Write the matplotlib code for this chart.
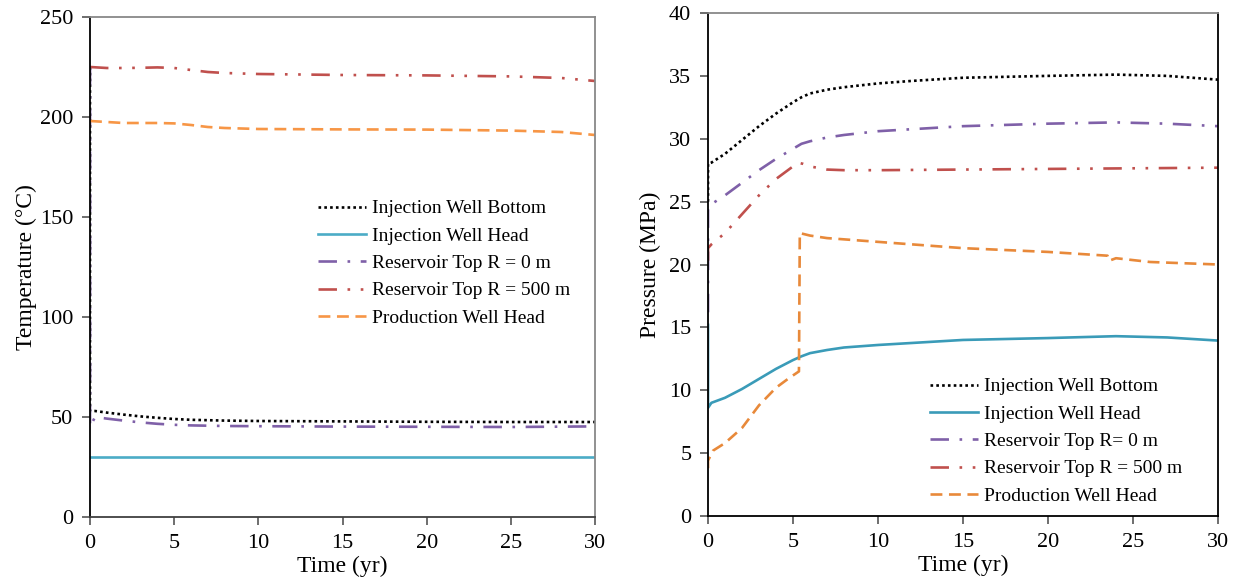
import matplotlib
matplotlib.use("Agg")
import matplotlib.pyplot as plt

plt.rcParams['font.family'] = ['Liberation Serif', 'DejaVu Serif']
plt.rcParams['mathtext.fontset'] = 'stix'

# ---------------- Temperature data (left) ----------------
t_T_ibot = [0, 0, 0.3, 1, 2, 3, 4, 5, 6, 8, 10, 15, 20, 25, 30]
T_ibot = [225, 53, 53, 52.2, 51.2, 50.3, 49.6, 49.0, 48.6, 48.2, 48.0, 47.8, 47.6, 47.5, 47.5]

t_T_ihead = [0, 30]
T_ihead = [30, 30]

t_T_r0 = [0, 0, 0.3, 1, 2, 3, 4, 5, 6, 8, 10, 15, 20, 25, 30]
T_r0 = [225, 45, 50, 49.2, 48.2, 47.3, 46.6, 46.1, 45.8, 45.5, 45.4, 45.2, 45.1, 45.0, 45.3]

t_T_r500 = [0, 1, 2, 3, 4, 5, 6, 7, 8, 10, 15, 20, 25, 28, 30]
T_r500 = [225, 224.5, 224.5, 224.6, 224.8, 224.5, 223.5, 222.5, 222.0, 221.5, 221.0, 220.8, 220.3, 219.5, 218.0]

t_T_prod = [0, 1, 2, 3, 4, 5, 6, 7, 8, 10, 15, 20, 25, 28, 30]
T_prod = [198, 197.5, 197, 197, 197, 196.8, 196, 195, 194.5, 194, 193.8, 193.7, 193.2, 192.5, 191]

# ---------------- Pressure data (right) ----------------
t_P_ibot = [0, 0, 0.2, 1, 2, 3, 4, 5, 5.5, 6, 7, 8, 10, 12, 15, 20, 24, 27, 30]
P_ibot = [25, 28, 28.1, 28.8, 29.9, 31.0, 32.0, 32.9, 33.3, 33.6, 33.9, 34.1, 34.4, 34.6, 34.85, 35.0, 35.1, 35.0, 34.7]

t_P_ihead = [0, 0, 0.2, 1, 2, 3, 4, 5, 5.5, 6, 7, 8, 10, 15, 20, 24, 27, 30]
P_ihead = [15.2, 8.6, 9.0, 9.4, 10.1, 10.9, 11.7, 12.4, 12.7, 12.95, 13.2, 13.4, 13.6, 14.0, 14.15, 14.3, 14.2, 13.95]

t_P_r0 = [0, 0, 0.2, 1, 2, 3, 4, 5, 5.5, 6, 7, 8, 10, 15, 20, 24, 27, 30]
P_r0 = [16.2, 24.6, 24.8, 25.5, 26.5, 27.5, 28.4, 29.2, 29.6, 29.8, 30.1, 30.3, 30.6, 31.0, 31.2, 31.3, 31.2, 31.0]

t_P_r500 = [0, 0, 0.2, 1, 2, 3, 4, 5, 5.3, 5.6, 6, 7, 8, 10, 15, 20, 25, 30]
P_r500 = [20.3, 21.3, 21.6, 22.5, 24.0, 25.5, 26.8, 27.8, 28.1, 28.0, 27.8, 27.55, 27.5, 27.5, 27.55, 27.6, 27.65, 27.7]

t_P_prod = [0, 0, 0.3, 1, 2, 3, 4, 4.7, 5.35, 5.4, 6, 7, 10, 15, 20, 23.5, 23.6, 24, 26, 30]
P_prod = [3.8, 4.4, 5.2, 5.8, 7.0, 8.8, 10.2, 10.9, 11.5, 22.5, 22.3, 22.1, 21.8, 21.3, 21.0, 20.7, 20.3, 20.5, 20.2, 20.0]

labels_T = ["Injection Well Bottom", "Injection Well Head", "Reservoir Top R = 0 m",
            "Reservoir Top R = 500 m", "Production Well Head"]
labels_P = ["Injection Well Bottom", "Injection Well Head", "Reservoir Top R= 0 m",
            "Reservoir Top R = 500 m", "Production Well Head"]

x_ticks = [0, 5, 10, 15, 20, 25, 30]
T_ticks = [0, 50, 100, 150, 200, 250]
P_ticks = [0, 5, 10, 15, 20, 25, 30, 35, 40]

black = 'black'
teal_L, teal_R = '#4bacc6', '#3a9bb8'
purple = '#7f60a8'
red = '#c0504d'
orange_L, orange_R = '#f79646', '#e8893a'

ls_dot = (0, (1, 1.2))
ls_solid = '-'
ls_r0 = (0, (7, 4, 1, 4))
ls_r500 = (0, (7, 4, 1, 4, 1, 4))
ls_dash = (0, (4.5, 2.5))
lw = 1.9

fig = plt.figure(figsize=(12.41, 5.81), dpi=100)
axL = fig.add_axes([90 / 1241, 64 / 581, 505 / 1241, 500 / 581])
axR = fig.add_axes([708 / 1241, 65 / 581, 510 / 1241, 503 / 581])

axL.plot(t_T_ibot, T_ibot, color=black, ls=ls_dot, lw=lw, label=labels_T[0])
axL.plot(t_T_ihead, T_ihead, color=teal_L, ls=ls_solid, lw=lw, label=labels_T[1])
axL.plot(t_T_r0, T_r0, color=purple, ls=ls_r0, lw=lw, label=labels_T[2])
axL.plot(t_T_r500, T_r500, color=red, ls=ls_r500, lw=lw, label=labels_T[3])
axL.plot(t_T_prod, T_prod, color=orange_L, ls=ls_dash, lw=lw, label=labels_T[4])

axR.plot(t_P_ibot, P_ibot, color=black, ls=ls_dot, lw=lw, label=labels_P[0])
axR.plot(t_P_ihead, P_ihead, color=teal_R, ls=ls_solid, lw=lw, label=labels_P[1])
axR.plot(t_P_r0, P_r0, color=purple, ls=ls_r0, lw=lw, label=labels_P[2])
axR.plot(t_P_r500, P_r500, color=red, ls=ls_r500, lw=lw, label=labels_P[3])
axR.plot(t_P_prod, P_prod, color=orange_R, ls=ls_dash, lw=lw, label=labels_P[4])

fs = 16
for ax, yt, ylab, lp in [(axL, T_ticks, 'Temperature (°C)', 2), (axR, P_ticks, 'Pressure (MPa)', 6)]:
    ax.set_xlim(0, 30)
    ax.set_ylim(yt[0], yt[-1])
    ax.set_xticks(x_ticks)
    ax.set_yticks(yt)
    ax.tick_params(axis='both', direction='out', length=6, width=1.2, labelsize=fs,
                   color='#555555', pad=6)
    ax.set_xlabel('Time (yr)', fontsize=fs + 1, labelpad=2)
    ax.set_ylabel(ylab, fontsize=fs + 1, labelpad=lp)
    for s in ax.spines.values():
        s.set_linewidth(1.3)

axL.spines['left'].set_color('black')
axL.spines['bottom'].set_color('#404040')
axL.spines['top'].set_color('#888888')
axL.spines['right'].set_color('#888888')
axR.spines['left'].set_color('black')
axR.spines['bottom'].set_color('black')
axR.spines['right'].set_color('black')
axR.spines['top'].set_color('#888888')

leg_kw = dict(loc='upper left', frameon=False, fontsize=14, handlelength=2.5,
              handletextpad=0.3, labelspacing=0.5, borderaxespad=0)
axL.legend(bbox_to_anchor=((310 - 90) / 505, (517 - 192) / 500), **leg_kw)
axR.legend(bbox_to_anchor=((922 - 708) / 510, (516 - 370) / 503), **leg_kw)

fig.savefig('out.png', dpi=100)
